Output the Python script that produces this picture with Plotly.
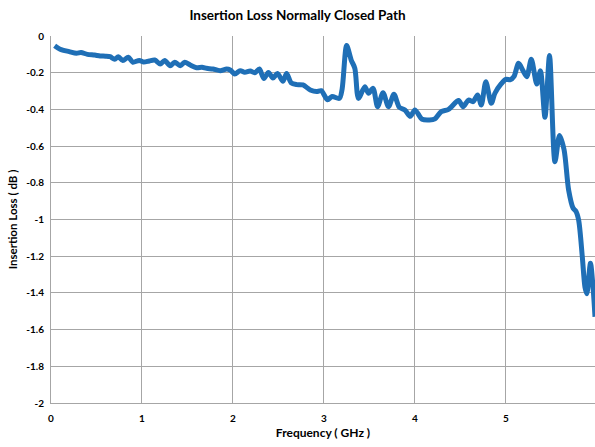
import plotly.graph_objects as go

# frequency (GHz) and insertion loss (dB)
freq_ghz = [
    0.04, 0.10, 0.20, 0.28, 0.33, 0.40, 0.48, 0.54, 0.60, 0.65,
    0.70, 0.74, 0.79, 0.85, 0.90, 0.97, 1.02, 1.08, 1.14, 1.20,
    1.25, 1.31, 1.36, 1.42, 1.47, 1.53, 1.60, 1.66, 1.71, 1.78,
    1.86, 1.93, 1.97, 2.02, 2.08, 2.13, 2.19, 2.24, 2.29, 2.34,
    2.39, 2.44, 2.49, 2.55, 2.59, 2.64, 2.70, 2.77, 2.85, 2.92,
    2.97, 3.04, 3.09, 3.17, 3.20, 3.25, 3.30, 3.34, 3.38, 3.45,
    3.49, 3.54, 3.59, 3.65, 3.71, 3.77, 3.83, 3.89, 3.95, 4.00,
    4.08, 4.16, 4.22, 4.29, 4.37, 4.48, 4.53, 4.59, 4.64, 4.69,
    4.73, 4.78, 4.84, 4.88, 4.95, 5.00, 5.05, 5.09, 5.14, 5.19,
    5.23, 5.28, 5.34, 5.38, 5.43, 5.48, 5.54, 5.59, 5.64, 5.69,
    5.74, 5.77, 5.80, 5.84, 5.87, 5.89, 5.93, 5.96, 5.98,
]
loss_db = [
    -0.053, -0.072, -0.085, -0.094, -0.090, -0.100, -0.104, -0.109, -0.110, -0.113,
    -0.127, -0.113, -0.134, -0.116, -0.143, -0.133, -0.142, -0.136, -0.131, -0.153,
    -0.134, -0.162, -0.143, -0.162, -0.143, -0.158, -0.173, -0.170, -0.176, -0.180,
    -0.189, -0.180, -0.185, -0.207, -0.189, -0.198, -0.191, -0.200, -0.180, -0.232,
    -0.199, -0.229, -0.204, -0.247, -0.205, -0.255, -0.265, -0.267, -0.294, -0.303,
    -0.298, -0.347, -0.330, -0.340, -0.290, -0.052, -0.131, -0.176, -0.340, -0.276,
    -0.312, -0.285, -0.385, -0.309, -0.385, -0.318, -0.389, -0.403, -0.438, -0.403,
    -0.454, -0.458, -0.452, -0.412, -0.400, -0.352, -0.385, -0.349, -0.358, -0.321,
    -0.376, -0.249, -0.367, -0.312, -0.260, -0.236, -0.238, -0.220, -0.149, -0.190,
    -0.222, -0.127, -0.262, -0.190, -0.443, -0.106, -0.685, -0.542, -0.620, -0.839,
    -0.939, -0.955, -1.003, -1.200, -1.370, -1.405, -1.239, -1.380, -1.530,
]

x_ticks = [0, 1, 2, 3, 4, 5]
y_ticks = [0, -0.2, -0.4, -0.6, -0.8, -1, -1.2, -1.4, -1.6, -1.8, -2]
y_tick_text = ["0", "-0.2", "-0.4", "-0.6", "-0.8", "-1", "-1.2", "-1.4", "-1.6", "-1.8", "-2"]

FONT = "Lato, 'Open Sans', sans-serif"
GRID = "#a6a6a6"

fig = go.Figure()
fig.add_trace(go.Scatter(
    x=freq_ghz, y=loss_db,
    mode="lines",
    line=dict(color="#1f6fb6", width=5, shape="spline", smoothing=0.8),
    showlegend=False,
))

fig.update_layout(
    width=595, height=447,
    margin=dict(l=51, r=0, t=36, b=44),
    paper_bgcolor="white",
    plot_bgcolor="white",
    font=dict(family=FONT, color="#000000"),
    title=dict(
        text="<b>Insertion Loss Normally Closed Path</b>",
        x=0.5, xanchor="center", y=0.965, yanchor="middle",
        font=dict(size=13.5, family=FONT),
    ),
    xaxis=dict(
        range=[0, 5.98],
        tickvals=x_ticks,
        ticktext=[f"<b>{v}</b>" for v in x_ticks],
        tickfont=dict(size=10),
        showgrid=True, gridcolor=GRID, gridwidth=1,
        showline=True, linecolor=GRID, linewidth=1,
        zeroline=False,
        ticks="outside", ticklen=6, tickcolor="white",
        title=dict(text="<b>Frequency ( GHz )</b>", font=dict(size=12), standoff=5),
    ),
    yaxis=dict(
        range=[-2, 0],
        tickvals=y_ticks,
        ticktext=[f"<b>{t}</b>" for t in y_tick_text],
        tickfont=dict(size=10),
        showgrid=True, gridcolor=GRID, gridwidth=1,
        showline=True, linecolor=GRID, linewidth=1,
        zeroline=False,
        ticks="outside", ticklen=4, tickcolor="white",
        title=dict(text="<b>Insertion Loss ( dB )</b>", font=dict(size=11.5), standoff=6),
    ),
)

fig.write_html(
    "out.html",
    config={"displayModeBar": False},
    post_script="document.body.style.margin = '0';",
)
